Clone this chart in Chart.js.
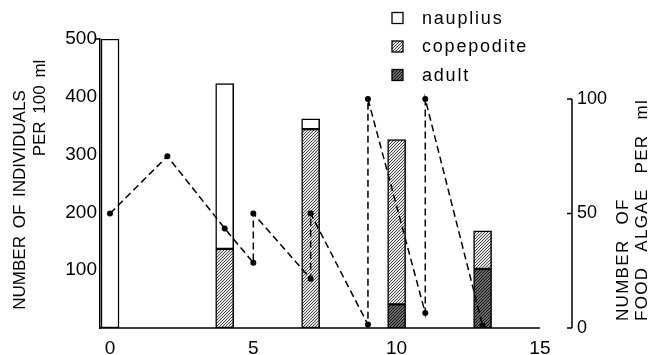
<!DOCTYPE html>
<html>
<head>
<meta charset="utf-8">
<script src="https://cdn.jsdelivr.net/npm/chart.js@4.4.1/dist/chart.umd.min.js"></script>
<style>
  html, body { margin: 0; padding: 0; background: #fff; }
</style>
</head>
<body>
<canvas id="chart" width="655" height="355"></canvas>
<script>
// sampling days of the culture and the stage counts (per 100 ml)
const sampleDays = [0, 4, 7, 10, 13]
const nauplius = [500, 286, 18, 0, 0]
const copepodite = [0, 137, 344, 285, 66]
const adult = [0, 0, 0, 41, 102]

// food algae per ml (dashed line, right axis)
const algaeDays = [0, 2, 4, 5, 5, 7, 7, 9, 9, 11, 11, 13]
const algae = [50, 75, 43.5, 28.5, 50, 21.5, 50, 1.5, 100, 6.5, 100, 1]

const xTicks = [0, 5, 10, 15]
const leftTicks = [100, 200, 300, 400, 500]
const rightTicks = [0, 50, 100]
const leftTitle = ['NUMBER OF INDIVIDUALS', 'PER 100 ml']
const rightTitle = ['NUMBER OF', 'FOOD ALGAE PER ml']

const FONT = "'Liberation Sans', Arial, sans-serif"

const ctx = document.getElementById('chart').getContext('2d')

function hatch(bg, fg, gap) {
  const c = document.createElement('canvas')
  c.width = gap
  c.height = gap
  const g = c.getContext('2d')
  g.fillStyle = bg
  g.fillRect(0, 0, gap, gap)
  g.fillStyle = fg
  for (let i = 0; i < gap; i++) g.fillRect(i, gap - 1 - i, 1, 1)
  return ctx.createPattern(c, 'repeat')
}

const copeFill = hatch('#e6e6e6', '#4a4a4a', 3)
const adultFill = hatch('#6a6a6a', '#141414', 3)

const pts = (xs, ys) => xs.map((d, i) => ({ x: d, y: ys[i] }))

const barStyle = {
  type: 'bar',
  yAxisID: 'y',
  barThickness: 18,
  borderColor: '#000',
  borderWidth: 1.5,
  borderSkipped: false
}

// axis lines that stop short of the plot edges, plus the small tick marks
const frame = {
  id: 'frame',
  afterDatasetsDraw(chart) {
    const { ctx, scales: { x, y, y2 } } = chart
    ctx.save()
    ctx.strokeStyle = '#000'
    ctx.lineWidth = 1.5
    ctx.beginPath()
    const base = y.getPixelForValue(0)
    ctx.moveTo(x.left, base)
    ctx.lineTo(x.getPixelForValue(xTicks[xTicks.length - 1]), base)
    const top = y.getPixelForValue(leftTicks[leftTicks.length - 1])
    ctx.moveTo(x.left - 5, top)
    ctx.lineTo(x.left, top)
    const ax = y2.left
    ctx.moveTo(ax, y2.getPixelForValue(0))
    ctx.lineTo(ax, y2.getPixelForValue(rightTicks[rightTicks.length - 1]))
    rightTicks.forEach(v => {
      const py = y2.getPixelForValue(v)
      ctx.moveTo(ax - 5, py)
      ctx.lineTo(ax, py)
    })
    ctx.stroke()
    ctx.restore()
  }
}

function vtext(c, text, px, py, align) {
  c.save()
  c.translate(px, py)
  c.rotate(-Math.PI / 2)
  c.textAlign = align
  c.textBaseline = 'middle'
  c.fillText(text, 0, 0)
  c.restore()
}

const titles = {
  id: 'titles',
  afterDraw(chart) {
    const c = chart.ctx
    c.save()
    c.fillStyle = '#000'
    c.font = '17px ' + FONT
    c.wordSpacing = '3px'
    vtext(c, leftTitle[0], 20, 200, 'center')
    vtext(c, leftTitle[1], 40, 108, 'center')
    c.font = '17px ' + FONT
    c.letterSpacing = '1.3px'
    c.wordSpacing = '9px'
    vtext(c, rightTitle[0], 623, 321, 'left')
    vtext(c, rightTitle[1], 642, 321, 'left')
    c.restore()
  }
}

const stageLegend = {
  id: 'stageLegend',
  afterDraw(chart) {
    const c = chart.ctx
    const items = chart.data.datasets.filter(d => d.type === 'bar').reverse()
    c.save()
    c.font = '18px ' + FONT
    c.letterSpacing = '1.8px'
    c.textBaseline = 'middle'
    items.forEach((d, i) => {
      const yc = 18 + i * 28.5
      c.fillStyle = d.backgroundColor
      c.fillRect(392, yc - 5.5, 11, 11)
      c.strokeStyle = '#000'
      c.lineWidth = 1.3
      c.strokeRect(392, yc - 5.5, 11, 11)
      c.fillStyle = '#000'
      c.fillText(d.label, 422, yc + 1)
    })
    c.restore()
  }
}

const tickFont = { family: FONT, size: 19 }

new Chart(ctx, {
  type: 'bar',
  data: {
    datasets: [
      {
        type: 'line',
        label: 'food algae',
        yAxisID: 'y2',
        data: pts(algaeDays, algae),
        borderColor: '#000',
        borderWidth: 1.5,
        borderDash: [7, 4],
        pointRadius: 3,
        pointBackgroundColor: '#000',
        pointBorderWidth: 0,
        tension: 0,
        fill: false
      },
      { ...barStyle, label: 'adult', data: pts(sampleDays, adult), backgroundColor: adultFill },
      { ...barStyle, label: 'copepodite', data: pts(sampleDays, copepodite), backgroundColor: copeFill },
      { ...barStyle, label: 'nauplius', data: pts(sampleDays, nauplius), backgroundColor: '#fff' }
    ]
  },
  options: {
    responsive: false,
    animation: false,
    devicePixelRatio: 1,
    layout: { padding: { top: 39, left: 0, right: 0, bottom: 0 } },
    plugins: { legend: { display: false }, tooltip: { enabled: false } },
    scales: {
      x: {
        type: 'linear',
        min: -0.35,
        max: 16.12,
        offset: false,
        stacked: true,
        afterBuildTicks: s => { s.ticks = xTicks.map(v => ({ value: v })) },
        afterFit: s => { s.height = 27 },
        grid: { display: false, drawTicks: false, offset: false },
        border: { display: false },
        ticks: { color: '#000', font: tickFont, padding: 9, maxRotation: 0 }
      },
      y: {
        position: 'left',
        min: 0,
        max: 500,
        stacked: true,
        afterBuildTicks: s => { s.ticks = leftTicks.map(v => ({ value: v })) },
        afterFit: s => { s.width = 100 },
        grid: { display: false, drawTicks: false },
        border: { display: true, color: '#000', width: 1.5 },
        ticks: { color: '#000', font: tickFont, padding: 3 }
      },
      y2: {
        position: 'right',
        min: 0,
        max: 126.2,
        afterBuildTicks: s => { s.ticks = rightTicks.map(v => ({ value: v })) },
        afterFit: s => { s.width = 83 },
        grid: { display: false, drawTicks: false },
        border: { display: false },
        ticks: { color: '#000', font: { family: FONT, size: 18 }, padding: 5 }
      }
    }
  },
  plugins: [frame, titles, stageLegend]
})
</script>
</body>
</html>
